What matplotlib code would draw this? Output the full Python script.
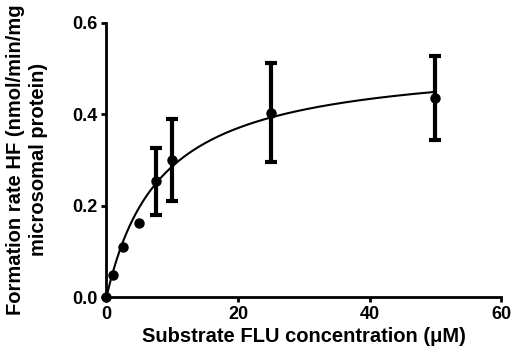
import matplotlib
matplotlib.use('Agg')
from matplotlib import pyplot as plt
import numpy as np

# substrate concentration (uM) and formation rate
conc = [0, 1, 2.5, 5, 7.5, 10, 25, 50]
rate = [0.0, 0.048, 0.110, 0.163, 0.253, 0.300, 0.403, 0.435]
err = [0, 0, 0, 0, 0.073, 0.089, 0.108, 0.092]

# Michaelis-Menten fit parameters
vmax = 0.523
km = 8.3

plt.rcParams['font.family'] = ['Liberation Sans', 'DejaVu Sans']
plt.rcParams['font.weight'] = 'bold'

fig = plt.figure(figsize=(5.12, 3.58), dpi=100)
ax = fig.add_axes([0.208, 0.170, 0.771, 0.767])

xs = np.linspace(0, 50, 300)
ax.plot(xs, vmax * xs / (km + xs), color='black', lw=1.5)

err_plot = [e if e > 0 else np.nan for e in err]
ax.errorbar(conc, rate, yerr=err_plot, fmt='o', color='black', ms=6.5,
            elinewidth=3, capsize=4.5, capthick=3, clip_on=False, zorder=3)

ax.set_xlim(0, 60)
ax.set_ylim(0, 0.6)
ax.set_xticks([0, 20, 40, 60])
ax.set_yticks([0.0, 0.2, 0.4, 0.6])
ax.set_yticklabels(['0.0', '0.2', '0.4', '0.6'])
for s in ['top', 'right']:
    ax.spines[s].set_visible(False)
for s in ['left', 'bottom']:
    ax.spines[s].set_linewidth(2)
ax.tick_params(width=2, length=3.5, labelsize=13, pad=3)
for lab in ax.get_xticklabels() + ax.get_yticklabels():
    lab.set_fontweight('bold')

ax.set_xlabel('Substrate FLU concentration (\u03bcM)', fontsize=14.5, fontweight='bold', labelpad=3)
ax.set_ylabel('Formation rate HF (nmol/min/mg\nmicrosomal protein)', fontsize=14.5,
              fontweight='bold', labelpad=17, linespacing=1.3)

fig.savefig('out.png', dpi=100)
